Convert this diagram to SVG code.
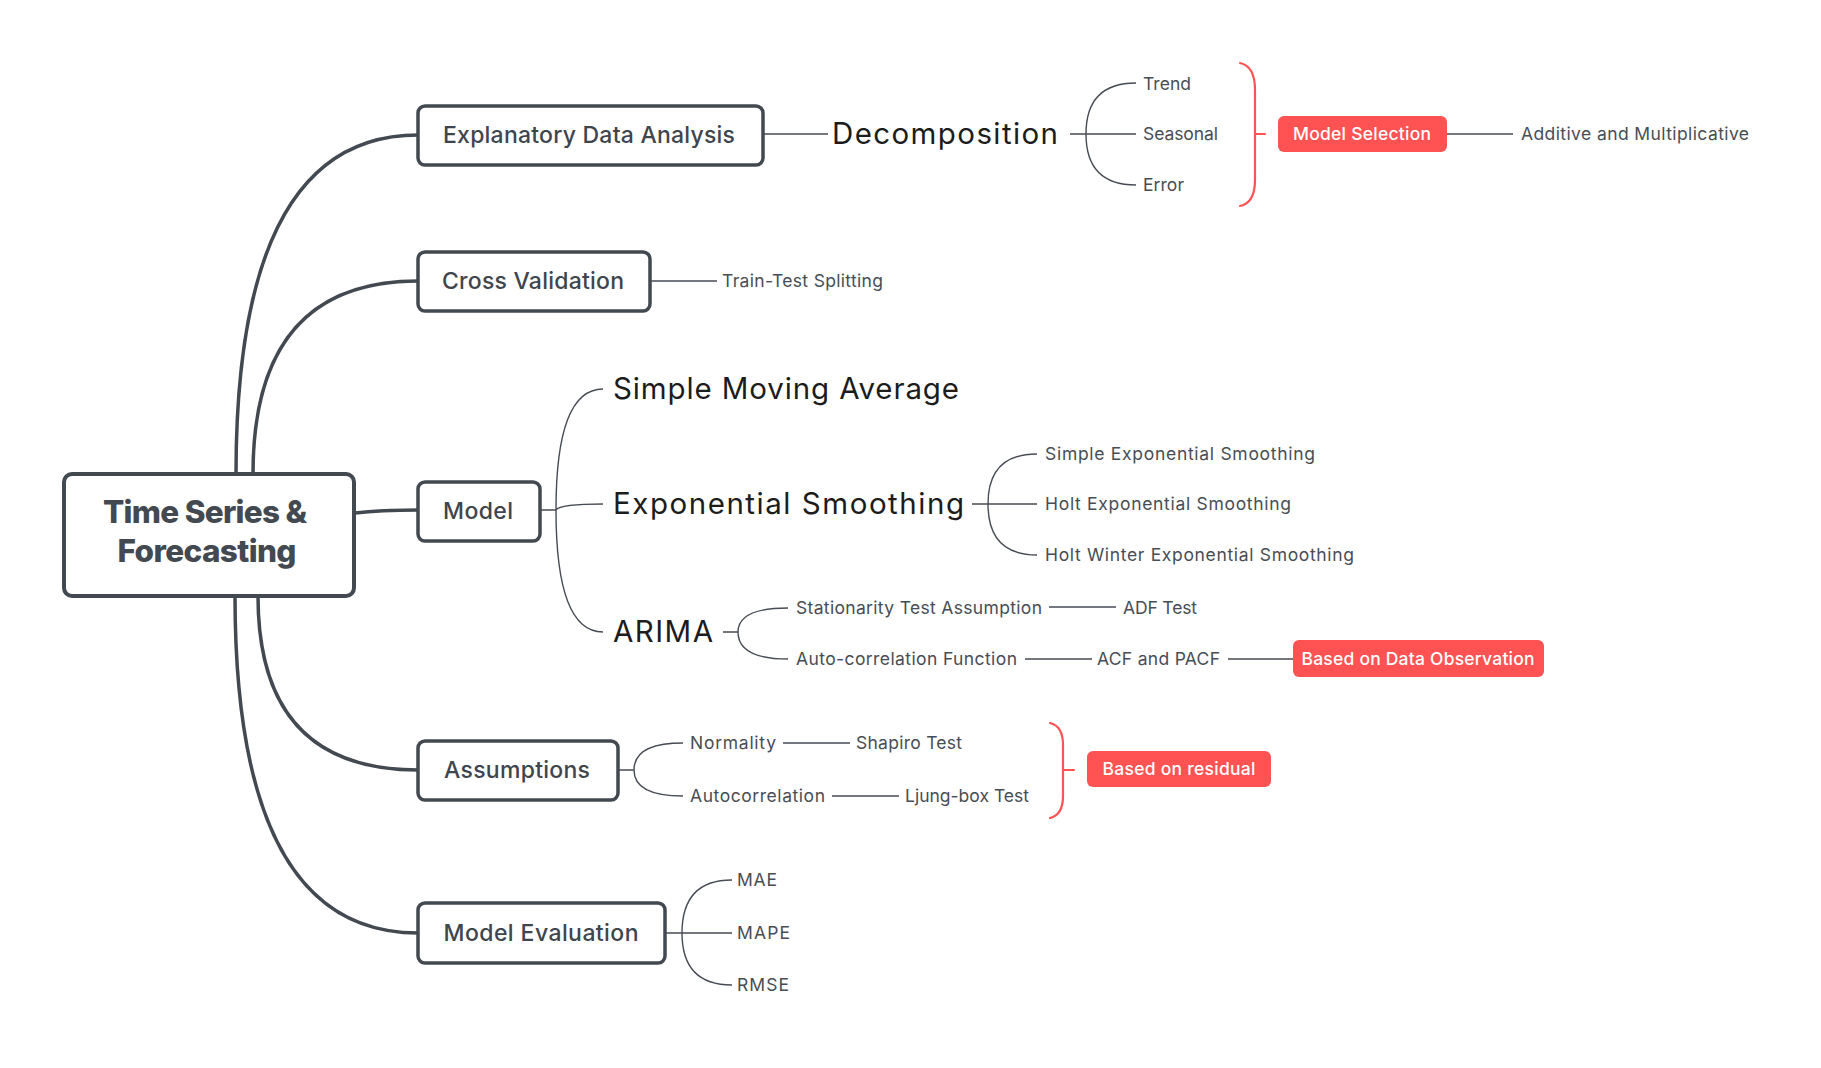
<svg xmlns="http://www.w3.org/2000/svg" width="1821" height="1068" viewBox="0 0 1821 1068">
<style>
.box{fill:#fff;stroke:#434950;stroke-width:3.5}
.root{fill:#fff;stroke:#434950;stroke-width:4}
.main{fill:none;stroke:#434950;stroke-width:3.5;stroke-linecap:round}
.thin{fill:none;stroke:#474c54;stroke-width:1.4}
.red{fill:none;stroke:#ff5252;stroke-width:2.2;stroke-linecap:round}
.redbox{fill:#ff5252}
text{font-family:Inter,"Open Sans","Liberation Sans",sans-serif}
.t0{font-size:31.5px;font-weight:800;fill:#434950;text-anchor:middle}
.t1{font-size:23px;font-weight:500;fill:#3f454d;text-anchor:middle}
.t2{font-size:29.5px;font-weight:400;fill:#1c1c1c}
.t3{font-size:17.5px;font-weight:400;fill:#484d55}
.tr{font-size:17.5px;font-weight:500;fill:#fff;text-anchor:middle}
</style>
<rect width="1821" height="1068" fill="#fff"/>
<g id="connectors">
<path class="main" d="M236,474 Q236,135 418,135"/>
<path class="main" d="M253,474 Q253,281 418,281"/>
<path class="main" d="M355,513 Q380,510 418,510"/>
<path class="main" d="M258,596 Q258,770 418,770"/>
<path class="main" d="M235,596 Q235,933 418,933"/>
<path class="thin" d="M763,134 H828"/>
<path class="thin" d="M1070,134 H1136 M1086,134 Q1086,83 1136,83 M1086,134 Q1086,185 1136,185"/>
<path class="thin" d="M1447,134 H1513"/>
<path class="thin" d="M650,281 H717"/>
<path class="thin" d="M540,510 H556 M556,510 Q556,389 603,389 M556,510 Q560,504 603,504 M556,510 Q556,632 603,632"/>
<path class="thin" d="M972,504 H1037 M988,504 Q988,454 1037,454 M988,504 Q988,555 1037,555"/>
<path class="thin" d="M723,632 H738 M738,632 Q738,608 788,608 M738,632 Q738,659 788,659"/>
<path class="thin" d="M1049,607 H1116 M1025,659 H1092 M1228,659 H1293"/>
<path class="thin" d="M618,770 H634 M634,770 Q634,743 683,743 M634,770 Q634,796 683,796"/>
<path class="thin" d="M783,743 H850 M832,796 H899"/>
<path class="thin" d="M665,933 H682 M682,933 Q682,880 732,880 M682,933 H732 M682,933 Q682,985 732,985"/>
<path class="red" d="M1240,63 Q1255,66 1255,90 V134 H1265 M1255,134 V180 Q1255,203 1240,206"/>
<path class="red" d="M1050,723 Q1063,726 1063,745 V770 H1074 M1063,770 V796 Q1063,815 1050,818"/>
</g>
<g id="root"><rect class="root" x="64" y="474" width="290" height="122" rx="8"/><text class="t0" x="205" y="523" textLength="204">Time Series &amp;</text><text class="t0" x="207" y="562" textLength="179">Forecasting</text></g>
<g id="eda"><rect class="box" x="418" y="106" width="345" height="59" rx="7"/><text class="t1" x="589" y="143" textLength="292">Explanatory Data Analysis</text></g>
<g id="cv"><rect class="box" x="418" y="252" width="232" height="59" rx="7"/><text class="t1" x="533" y="289" textLength="182">Cross Validation</text></g>
<g id="model"><rect class="box" x="418" y="482" width="122" height="59" rx="7"/><text class="t1" x="478" y="519" textLength="70">Model</text></g>
<g id="assumptions"><rect class="box" x="418" y="741" width="200" height="59" rx="7"/><text class="t1" x="517" y="778" textLength="146">Assumptions</text></g>
<g id="evaluation"><rect class="box" x="418" y="903" width="247" height="60" rx="7"/><text class="t1" x="541" y="941" textLength="195">Model Evaluation</text></g>
<g id="decomposition"><text class="t2" x="832" y="144" textLength="226">Decomposition</text></g>
<g id="trend"><text class="t3" x="1143" y="90" textLength="48">Trend</text></g>
<g id="seasonal"><text class="t3" x="1143" y="140" textLength="75">Seasonal</text></g>
<g id="error"><text class="t3" x="1143" y="191" textLength="41">Error</text></g>
<g id="model-selection"><rect class="redbox" x="1278" y="116" width="169" height="36" rx="6"/><text class="tr" x="1362" y="140" textLength="138">Model Selection</text></g>
<g id="additive"><text class="t3" x="1521" y="140" textLength="228">Additive and Multiplicative</text></g>
<g id="train-test"><text class="t3" x="722" y="287" textLength="161">Train-Test Splitting</text></g>
<g id="sma"><text class="t2" x="613" y="399" textLength="346">Simple Moving Average</text></g>
<g id="es"><text class="t2" x="613" y="514" textLength="351">Exponential Smoothing</text></g>
<g id="arima"><text class="t2" x="613" y="642" textLength="100">ARIMA</text></g>
<g id="ses"><text class="t3" x="1045" y="460" textLength="270">Simple Exponential Smoothing</text></g>
<g id="hes"><text class="t3" x="1045" y="510" textLength="246">Holt Exponential Smoothing</text></g>
<g id="hwes"><text class="t3" x="1045" y="561" textLength="309">Holt Winter Exponential Smoothing</text></g>
<g id="stationarity"><text class="t3" x="796" y="614" textLength="246">Stationarity Test Assumption</text></g>
<g id="adf"><text class="t3" x="1123" y="614" textLength="74">ADF Test</text></g>
<g id="acf-func"><text class="t3" x="796" y="665" textLength="221">Auto-correlation Function</text></g>
<g id="acf-pacf"><text class="t3" x="1097" y="665" textLength="123">ACF and PACF</text></g>
<g id="data-observation"><rect class="redbox" x="1293" y="640" width="251" height="37" rx="6"/><text class="tr" x="1418" y="665" textLength="233">Based on Data Observation</text></g>
<g id="normality"><text class="t3" x="690" y="749" textLength="86">Normality</text></g>
<g id="shapiro"><text class="t3" x="856" y="749" textLength="106">Shapiro Test</text></g>
<g id="autocorrelation"><text class="t3" x="690" y="802" textLength="135">Autocorrelation</text></g>
<g id="ljung"><text class="t3" x="905" y="802" textLength="124">Ljung-box Test</text></g>
<g id="residual"><rect class="redbox" x="1087" y="751" width="184" height="36" rx="6"/><text class="tr" x="1179" y="775" textLength="153">Based on residual</text></g>
<g id="mae"><text class="t3" x="737" y="886" textLength="40">MAE</text></g>
<g id="mape"><text class="t3" x="737" y="939" textLength="53">MAPE</text></g>
<g id="rmse"><text class="t3" x="737" y="991" textLength="52">RMSE</text></g>
</svg>
